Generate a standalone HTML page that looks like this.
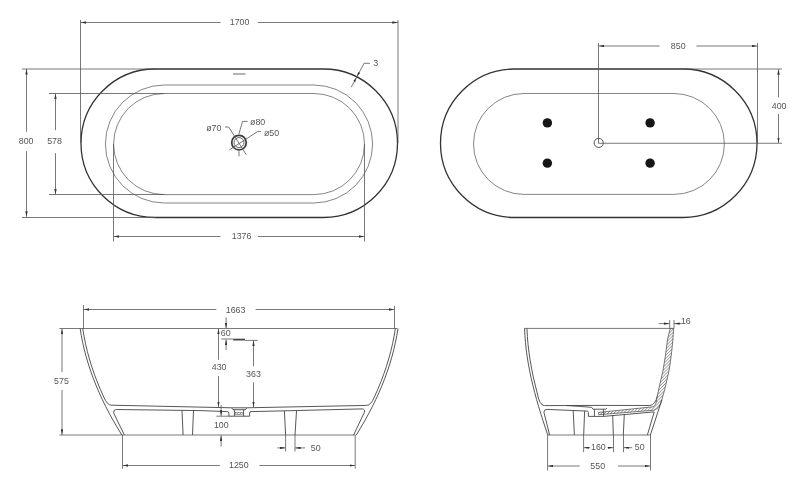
<!DOCTYPE html>
<html><head><meta charset="utf-8">
<style>
html,body{margin:0;padding:0;background:#fff;}
body{width:800px;height:489px;overflow:hidden;}
svg{display:block;will-change:transform;}
text{font-family:"Liberation Sans",sans-serif;font-size:9.5px;fill:#555;}
.d{stroke:#555;stroke-width:0.8;fill:none;}
.o{stroke:#333;stroke-width:1.3;fill:none;}
.i{stroke:#666;stroke-width:0.8;fill:none;}
.w{stroke:#444;stroke-width:0.9;fill:none;}
</style></head>
<body>
<svg width="800" height="489" viewBox="0 0 800 489">
<defs>
<marker id="a" viewBox="0 0 10 6" refX="10" refY="3" markerWidth="5.5" markerHeight="2.4" preserveAspectRatio="none" markerUnits="userSpaceOnUse" orient="auto-start-reverse"><path d="M0,0 L10,3 L0,6 z" fill="#333"/></marker>
<pattern id="h" width="2.2" height="2.2" patternUnits="userSpaceOnUse" patternTransform="rotate(45)"><rect width="2.2" height="2.2" fill="#fff"/><line x1="0" y1="0" x2="0" y2="2.2" stroke="#5a5a5a" stroke-width="1"/></pattern>
</defs>

<!-- ================= TOP LEFT: plan view ================= -->
<!-- outer stadium -->
<path class="o" d="M155.25,69 H323.25 A74.25,74.25 0 0 1 323.25,217.5 H155.25 A74.25,74.25 0 0 1 155.25,69 Z"/>
<!-- middle stadium -->
<path class="i" d="M164.4,85 H313.6 A59,59 0 0 1 313.6,203 H164.4 A59,59 0 0 1 164.4,85 Z"/>
<!-- inner stadium -->
<path class="i" d="M164.15,93.5 H313.95 A50.55,50.55 0 0 1 313.95,194.6 H164.15 A50.55,50.55 0 0 1 164.15,93.5 Z"/>
<!-- extension lines -->
<path class="d" d="M22,69 H156 M22,217.5 H156 M49,93.5 H164.5 M49,194.5 H164.5 M80.5,20 V143 M398,20 V143 M113.5,144 V241.5 M364.5,144 V241.5"/>
<!-- 1700 -->
<path class="d" marker-end="url(#a)" d="M220.5,22.5 H80.7"/>
<path class="d" marker-end="url(#a)" d="M258,22.5 H397.8"/>
<!-- 800 -->
<path class="d" marker-end="url(#a)" d="M26.5,131.8 V69"/>
<path class="d" marker-end="url(#a)" d="M26.5,151.2 V216.7"/>
<!-- 578 -->
<path class="d" marker-end="url(#a)" d="M55.5,130.2 V93.7"/>
<path class="d" marker-end="url(#a)" d="M55.5,153.2 V194.3"/>
<!-- 1376 -->
<path class="d" marker-end="url(#a)" d="M220.5,236.5 H113.7"/>
<path class="d" marker-end="url(#a)" d="M258,236.5 H364.3"/>
<!-- overflow mark -->
<path d="M233,74 H245.5" stroke="#666" stroke-width="1"/>
<!-- 3 -->
<path class="d" d="M369.9,63.3 H364.1 L351.2,87.3"/>
<path d="M357.03,76.45 L360.13,73.01 L358.20,71.97 Z M356.47,77.51 L355.30,81.99 L353.37,80.95 Z" fill="#333"/>
<!-- drain -->
<circle cx="239" cy="142.6" r="7.3" fill="none" stroke="#3a3a3a" stroke-width="1.7"/>
<circle cx="239" cy="142.6" r="5.0" fill="none" stroke="#555" stroke-width="0.9"/>
<path class="d" d="M225,127 H228.7 L246.2,154.6"/>
<path class="d" d="M247.6,121.4 H242.5 L238.9,134 M239,151.3 V156.4"/>
<path class="d" d="M261,131.6 H257.5 L229.2,150"/>

<!-- ================= TOP RIGHT: bottom view ================= -->
<path class="o" d="M514.75,69 H682.75 A74.25,74.25 0 0 1 682.75,217.5 H514.75 A74.25,74.25 0 0 1 514.75,69 Z"/>
<path class="i" d="M523.95,93.5 H673.95 A50.45,50.45 0 0 1 673.95,194.4 H523.95 A50.45,50.45 0 0 1 523.95,93.5 Z"/>
<circle cx="547.35" cy="122.9" r="4.7" fill="#161616"/>
<circle cx="650.1" cy="122.9" r="4.7" fill="#161616"/>
<circle cx="547.35" cy="163.15" r="4.7" fill="#161616"/>
<circle cx="650.1" cy="163.15" r="4.7" fill="#161616"/>
<circle cx="598.7" cy="142.9" r="4.6" fill="none" stroke="#444" stroke-width="0.9"/>
<path class="d" d="M598.5,143.25 V43 M598.5,143.25 H782 M682,69 H782 M757.5,43 V143"/>
<!-- 850 -->
<path class="d" marker-end="url(#a)" d="M659.6,46 H598.7"/>
<path class="d" marker-end="url(#a)" d="M696.4,46 H757.3"/>
<!-- 400 -->
<path class="d" marker-end="url(#a)" d="M778.5,97.5 V69.2"/>
<path class="d" marker-end="url(#a)" d="M778.5,114 V143"/>

<!-- ================= BOTTOM LEFT: side view ================= -->
<path class="d" d="M59.3,328.5 H397.4"/>
<path class="d" d="M59.4,435 H355.5"/>
<!-- walls -->
<path class="w" d="M80.12,328.50 L81.30,335.60 L82.71,342.70 L84.35,349.80 L86.23,356.90 L88.33,364.00 L90.67,371.10 L93.23,378.20 L96.03,385.30 L99.04,392.40 L102.29,399.50 L105.76,406.60 L109.45,413.70 L113.37,420.80 L117.50,427.90 L121.86,435.00"/>
<path class="w" d="M82.72,328.50 L83.99,336.11 L85.53,343.72 L87.34,351.33 L89.41,358.94 L91.75,366.56 L94.35,374.17 L97.21,381.78 L100.34,389.39 L103.72,397.00 Q107.2,405.2 111.6,405.2 L231.7,407.8 L246.9,407.8 L366.5,405.4 Q370.9,405.4 374.38,397 L377.76,389.39 L380.89,381.78 L383.75,374.17 L386.35,366.56 L388.69,358.94 L390.76,351.33 L392.57,343.72 L394.11,336.11 L395.38,328.50"/>
<path class="w" d="M397.98,328.50 L396.80,335.60 L395.39,342.70 L393.75,349.80 L391.87,356.90 L389.77,364.00 L387.43,371.10 L384.87,378.20 L382.07,385.30 L379.06,392.40 L375.81,399.50 L372.34,406.60 L368.65,413.70 L364.73,420.80 L360.60,427.90 L356.24,435.00"/>
<!-- cavity -->
<path class="w" d="M124.4,435 L113.6,413 Q113.2,409.5 116.5,409.5 L200,410.6 L227.5,411.6 Q228.9,411.8 228.9,413 V416.2 H249.6 V413 Q249.6,411.6 251,411.6 L270,411.2 L362.3,408.9 Q365.5,409.2 364.3,412.5 L353.6,435"/>
<!-- drain -->
<path class="w" d="M231.7,407.8 L233,409.7 H245.5 L246.9,407.8 M234.4,409.7 V416.2 M243.6,409.7 V416.2"/>
<rect x="235.5" y="412.4" width="7" height="2" fill="url(#h)" stroke="#555" stroke-width="0.5"/>
<!-- feet -->
<path class="w" d="M182,410.6 L183.1,435 M193.5,410.6 L192.5,435 M284.4,411 L285.6,435 M296.5,411 L295,435"/>
<!-- 1663 -->
<path class="d" d="M83.5,305 V328.5 M394.5,306 V328.5"/>
<path class="d" marker-end="url(#a)" d="M216.3,309.5 H83.7"/>
<path class="d" marker-end="url(#a)" d="M255.6,309.5 H394.3"/>
<!-- 575 -->
<path class="d" marker-end="url(#a)" d="M62,372 V328.8"/>
<path class="d" marker-end="url(#a)" d="M62,390 V434.7"/>
<!-- 430 -->
<path class="d" marker-end="url(#a)" d="M218.5,359.7 V328.8"/>
<path class="d" marker-end="url(#a)" d="M218.5,376 V407"/>
<!-- 363 -->
<path class="d" marker-end="url(#a)" d="M253.5,366.3 V340.6"/>
<path class="d" marker-end="url(#a)" d="M253.5,382.3 V407"/>
<!-- 60 -->
<path class="d" marker-end="url(#a)" d="M226.1,317.3 V328.2"/>
<path class="d" marker-end="url(#a)" d="M226.1,350 V339.6"/>
<path class="d" d="M221.4,339 H233.2 M245,340.4 H257.7"/>
<path d="M233.2,339.6 H245" stroke="#444" stroke-width="1.8"/>
<!-- 100 -->
<path class="d" d="M216.3,416.2 H229"/>
<path class="d" marker-end="url(#a)" d="M221.1,405 V415.8"/>
<path class="d" marker-end="url(#a)" d="M221.1,446.5 V435.4"/>
<!-- 50 -->
<path class="d" d="M285.6,435 V451.5 M295,435 V451.5"/>
<path class="d" marker-end="url(#a)" d="M277.4,447.9 H285.4"/>
<path class="d" marker-end="url(#a)" d="M305,447.9 H295.2"/>
<!-- 1250 -->
<path class="d" d="M122.5,435 V468.7 M355.2,435 V468.7"/>
<path class="d" marker-end="url(#a)" d="M219.8,465.5 H122.7"/>
<path class="d" marker-end="url(#a)" d="M259.5,465.5 H355"/>

<!-- ================= BOTTOM RIGHT: end view ================= -->
<path class="d" d="M524,328.4 H673.7"/>
<path class="d" d="M547.7,435 H650.4"/>
<path class="w" d="M524.57,328.50 L524.91,335.60 L525.47,342.70 L526.25,349.80 L527.21,356.90 L528.37,364.00 L529.71,371.10 L531.20,378.20 L532.86,385.30 L534.65,392.40 L536.58,399.50 L538.63,406.60 L540.79,413.70 L543.04,420.80 L545.39,427.90 L547.81,435.00"/>
<path class="w" d="M526.97,328.50 L527.37,336.44 L528.04,344.38 L528.97,352.31 L530.14,360.25 L531.54,368.19 L533.15,376.12 L534.96,384.06 L536.95,392.00 Q539.5,405.8 544.4,405.6 L600,405.4 L649.7,405.5 Q655.6,405 657.6,395"/>
<!-- right hatched wall section -->
<path d="M670.3,328.5 L673.6,328.5 L672.9,340 L671.3,355 L669.2,370 L665.1,388 L661.8,400 Q659.6,408.8 654.2,410.2 L598.6,414.7 L598.6,412.3 L603.6,411.9 L653.1,406.8 Q655.9,405.6 656.6,400 L659,388 L663.1,370 L665.5,355 L667.4,340 L669.3,332 Z" fill="url(#h)" stroke="#444" stroke-width="0.7"/>
<path class="w" d="M661.8,400 L650.4,435"/>
<path class="w" d="M566,405.5 Q580,406.4 591.6,407.3 L593,409.2 H605.9 L607,408.1 M594.4,409.2 V416.4 M603.6,409.2 V416.4"/>
<!-- cavity -->
<path class="w" d="M549.6,435 L543.9,412.2 Q544.2,409.4 547,409.4 L587.2,411.1 Q588.4,411.3 588.4,412.5 V416.4 H603.6 L654.2,411.9 L647.4,435"/>
<!-- feet -->
<path class="w" d="M573.2,410.8 L574.4,435 M584.6,411.2 L583.7,435 M612.7,415.1 L613.3,435 M624.3,414.2 L623.3,435"/>
<!-- 16 -->
<path class="d" d="M669.7,320 V328.4 M674,320 V328.4"/>
<path class="d" marker-end="url(#a)" d="M658.7,323.6 H669.5"/>
<path class="d" marker-end="url(#a)" d="M681.5,323.6 H674.2"/>
<!-- 160 / 50 -->
<path class="d" d="M583.6,435 V452.2 M613.5,435 V452.2 M623.5,435 V452.2"/>
<path class="d" marker-end="url(#a)" d="M590.2,447.7 H583.8"/>
<path class="d" marker-end="url(#a)" d="M607.5,447.7 H613.3"/>
<path class="d" marker-end="url(#a)" d="M632.2,447.7 H623.7"/>
<!-- 550 -->
<path class="d" d="M547.6,435 V470.5 M650.5,435 V470.5"/>
<path class="d" marker-end="url(#a)" d="M579.7,466 H547.8"/>
<path class="d" marker-end="url(#a)" d="M618,466 H650.3"/>
<text transform="translate(229.73,25.46) scale(0.930,1)">1700</text>
<text transform="translate(18.76,144.30) scale(0.930,1)">800</text>
<text transform="translate(47.19,144.30) scale(0.930,1)">578</text>
<text transform="translate(231.75,239.45) scale(0.930,1)">1376</text>
<text transform="translate(373.30,66.25) scale(0.930,1)">3</text>
<text transform="translate(206.20,130.88) scale(0.930,1)">ø70</text>
<text transform="translate(250.01,124.52) scale(0.930,1)">ø80</text>
<text transform="translate(263.93,135.52) scale(0.930,1)">ø50</text>
<text transform="translate(670.83,48.94) scale(0.930,1)">850</text>
<text transform="translate(771.80,108.88) scale(0.930,1)">400</text>
<text transform="translate(225.77,312.62) scale(0.930,1)">1663</text>
<text transform="translate(54.12,384.46) scale(0.930,1)">575</text>
<text transform="translate(211.76,370.46) scale(0.930,1)">430</text>
<text transform="translate(246.10,377.04) scale(0.930,1)">363</text>
<text transform="translate(220.84,336.40) scale(0.930,1)">60</text>
<text transform="translate(213.95,428.04) scale(0.930,1)">100</text>
<text transform="translate(310.78,450.56) scale(0.930,1)">50</text>
<text transform="translate(228.98,467.62) scale(0.930,1)">1250</text>
<text transform="translate(680.94,323.88) scale(0.930,1)">16</text>
<text transform="translate(591.01,450.04) scale(0.930,1)">160</text>
<text transform="translate(634.86,450.30) scale(0.930,1)">50</text>
<text transform="translate(590.35,469.30) scale(0.930,1)">550</text>
</svg>
</body></html>
